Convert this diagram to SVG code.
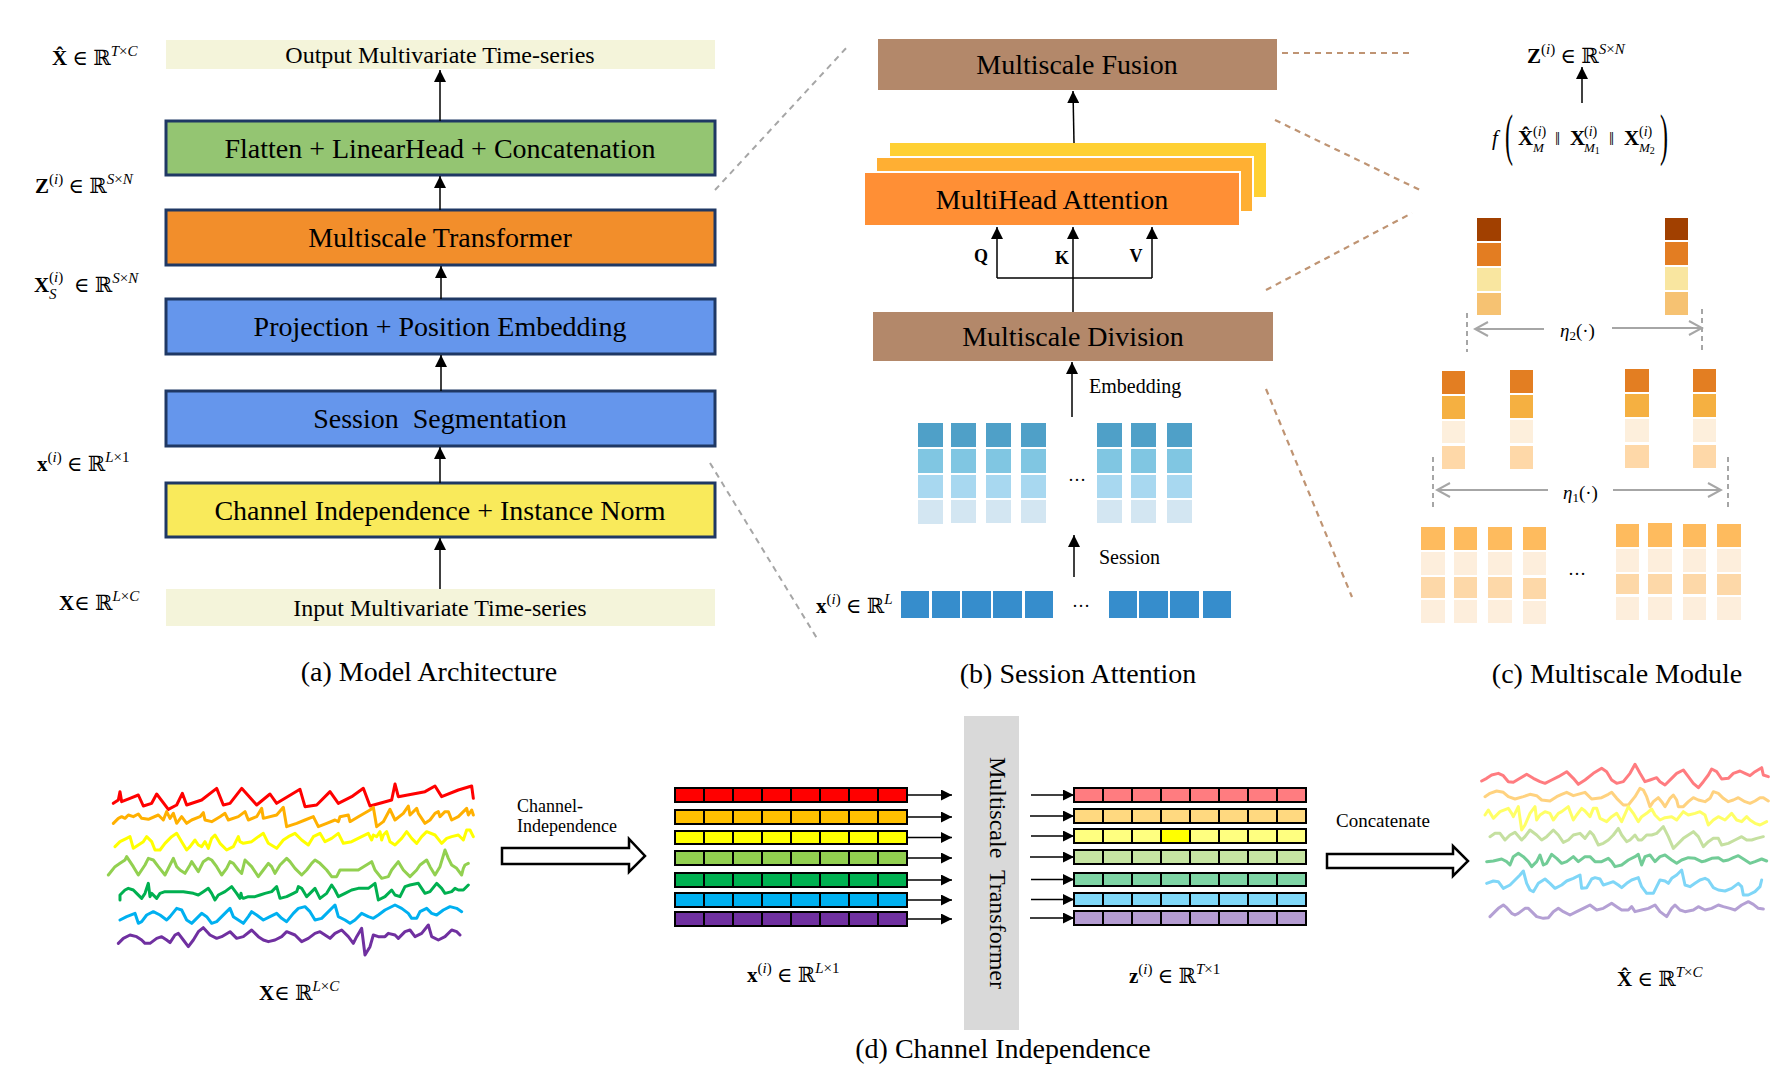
<svg xmlns="http://www.w3.org/2000/svg" width="1787" height="1066" viewBox="0 0 1787 1066">
<style>
.t{font-family:"Liberation Serif","Times New Roman","DejaVu Serif",serif;fill:#000}
.box{stroke:#1F3864;stroke-width:3}
.ln{stroke:#000;stroke-width:1.5;fill:none}
.dg{stroke:#A6A6A6;stroke-width:2;stroke-dasharray:6 5;fill:none}
.db{stroke:#BF9473;stroke-width:2.2;stroke-dasharray:6 5;fill:none}
.gr{stroke:#A6A6A6;stroke-width:2;fill:none}
.gv{stroke:#A6A6A6;stroke-width:2;stroke-dasharray:5 4;fill:none}
.b{font-weight:bold}
.i{font-style:italic}
.m{font-size:21px}
.s{font-size:15px}
.cap{font-size:28px}
.bt{font-size:28px}
.bar{stroke:#000;stroke-width:2}
.sep{stroke:#000;stroke-width:2;fill:none}
.cv{fill:none;stroke-width:9;stroke-linejoin:round;stroke-linecap:round}
</style>
<defs>
<marker id="ah" markerUnits="userSpaceOnUse" markerWidth="12" markerHeight="12" refX="12" refY="6" orient="auto" viewBox="0 0 12 12"><path d="M0,0 L12,6 L0,12 z" fill="#000"/></marker>
<marker id="ahs" markerUnits="userSpaceOnUse" markerWidth="11" markerHeight="11" refX="11" refY="5.5" orient="auto" viewBox="0 0 11 11"><path d="M0,0 L11,5.5 L0,11 z" fill="#000"/></marker>
<marker id="chev" markerUnits="userSpaceOnUse" markerWidth="16" markerHeight="16" refX="14" refY="8" orient="auto" viewBox="0 0 16 16"><path d="M1,1 L14,8 L1,15" fill="none" stroke="#A6A6A6" stroke-width="2"/></marker>
</defs>
<rect width="1787" height="1066" fill="#fff"/>

<!-- Panel (a) -->
<g id="a-output"><rect x="166" y="40" width="549" height="29" fill="#F4F4DA"/><text class="t" x="440" y="63" font-size="24" text-anchor="middle">Output Multivariate Time-series</text></g>
<g id="a-flatten"><rect class="box" x="166" y="121" width="549" height="54" fill="#94C572"/><text class="t bt" x="440" y="157.5" text-anchor="middle">Flatten + LinearHead + Concatenation</text></g>
<g id="a-mt"><rect class="box" x="166" y="210" width="549" height="55" fill="#F28E2B"/><text class="t bt" x="440" y="247" text-anchor="middle">Multiscale Transformer</text></g>
<g id="a-proj"><rect class="box" x="166" y="299" width="549" height="55" fill="#6596EC"/><text class="t bt" x="440" y="336" text-anchor="middle">Projection + Position Embedding</text></g>
<g id="a-seg"><rect class="box" x="166" y="391" width="549" height="55" fill="#6596EC"/><text class="t bt" x="440" y="428" text-anchor="middle" xml:space="preserve">Session  Segmentation</text></g>
<g id="a-ci"><rect class="box" x="166" y="483" width="549" height="54" fill="#F9EA5B"/><text class="t bt" x="440" y="519.5" text-anchor="middle">Channel Independence + Instance Norm</text></g>
<g id="a-input"><rect x="166" y="589" width="549" height="37" fill="#F4F4DA"/><text class="t" x="440" y="616" font-size="24" text-anchor="middle">Input Multivariate Time-series</text></g>

<g id="a-labels" class="t m">
<text x="52" y="65"><tspan class="b">X̂</tspan> ∈ ℝ<tspan dy="-9" class="s i">T</tspan><tspan class="s">×</tspan><tspan class="s i">C</tspan></text>
<text x="35" y="193"><tspan class="b">Z</tspan><tspan dy="-9" class="s">(</tspan><tspan class="s i">i</tspan><tspan class="s">)</tspan><tspan dy="9"> ∈ ℝ</tspan><tspan dy="-9" class="s i">S</tspan><tspan class="s">×</tspan><tspan class="s i">N</tspan></text>
<text x="34" y="292" class="b">X</text>
<text x="49" y="282" class="s">(<tspan class="i">i</tspan>)</text>
<text x="49" y="299" class="s i">S</text>
<text x="74" y="292">∈ ℝ<tspan dy="-9" class="s i">S</tspan><tspan class="s">×</tspan><tspan class="s i">N</tspan></text>
<text x="37" y="471"><tspan class="b">x</tspan><tspan dy="-9" class="s">(</tspan><tspan class="s i">i</tspan><tspan class="s">)</tspan><tspan dy="9"> ∈ ℝ</tspan><tspan dy="-9" class="s i">L</tspan><tspan class="s">×1</tspan></text>
<text x="59" y="610"><tspan class="b">X</tspan>∈ ℝ<tspan dy="-9" class="s i">L</tspan><tspan class="s">×</tspan><tspan class="s i">C</tspan></text>
</g>
<text class="t cap" x="429" y="681" text-anchor="middle">(a) Model Architecture</text>

<!-- Panel (b) -->
<g id="b-fusion"><rect x="878" y="39" width="399" height="51" fill="#B3886A"/><text class="t bt" x="1077" y="74" text-anchor="middle">Multiscale Fusion</text></g>
<g id="b-mha">
<rect x="890" y="143" width="376" height="54" fill="#FFD033"/>
<rect x="876" y="157" width="377" height="55" fill="#FFAF33" stroke="#fff" stroke-width="2"/>
<rect x="864" y="172" width="376" height="54" fill="#FF8F35" stroke="#fff" stroke-width="2"/>
<text class="t bt" x="1052" y="208.5" text-anchor="middle">MultiHead Attention</text>
</g>
<g id="b-div"><rect x="873" y="312" width="400" height="49" fill="#B3886A"/><text class="t bt" x="1073" y="346" text-anchor="middle">Multiscale Division</text></g>
<g id="b-qkv" class="t b" font-size="18" text-anchor="middle">
<text x="981" y="262">Q</text><text x="1062" y="264">K</text><text x="1136" y="262">V</text>
</g>
<g id="b-grid">
<g fill="#4FA0C8"><rect x="918" y="423" width="25" height="24"/><rect x="951" y="423" width="25" height="24"/><rect x="986" y="423" width="25" height="24"/><rect x="1021" y="423" width="25" height="24"/><rect x="1097" y="423" width="25" height="24"/><rect x="1131" y="423" width="25" height="24"/><rect x="1167" y="423" width="25" height="24"/></g>
<g fill="#80C6E2"><rect x="918" y="449" width="25" height="24"/><rect x="951" y="449" width="25" height="24"/><rect x="986" y="449" width="25" height="24"/><rect x="1021" y="449" width="25" height="24"/><rect x="1097" y="449" width="25" height="24"/><rect x="1131" y="449" width="25" height="24"/><rect x="1167" y="449" width="25" height="24"/></g>
<g fill="#A8D8F0"><rect x="918" y="475" width="25" height="23"/><rect x="951" y="475" width="25" height="23"/><rect x="986" y="475" width="25" height="23"/><rect x="1021" y="475" width="25" height="23"/><rect x="1097" y="475" width="25" height="23"/><rect x="1131" y="475" width="25" height="23"/><rect x="1167" y="475" width="25" height="23"/></g>
<g fill="#D3E6F2"><rect x="918" y="500" width="25" height="24"/><rect x="951" y="500" width="25" height="23"/><rect x="986" y="500" width="25" height="23"/><rect x="1021" y="500" width="25" height="23"/><rect x="1097" y="500" width="25" height="23"/><rect x="1131" y="500" width="25" height="23"/><rect x="1167" y="500" width="25" height="23"/></g>
<text class="t" x="1077" y="481" font-size="18" text-anchor="middle">…</text>
</g>
<g id="b-seq" fill="#368DCC">
<rect x="901" y="591" width="28" height="27"/><rect x="932" y="591" width="28" height="27"/><rect x="962" y="591" width="29" height="27"/><rect x="993" y="591" width="29" height="27"/><rect x="1025" y="591" width="28" height="27"/>
<rect x="1109" y="591" width="28" height="27"/><rect x="1139" y="591" width="29" height="27"/><rect x="1170" y="591" width="29" height="27"/><rect x="1203" y="591" width="28" height="27"/>
<text class="t" x="1081" y="607" font-size="18" text-anchor="middle">…</text>
</g>
<g id="b-labels" class="t">
<text x="1089" y="393" font-size="20">Embedding</text>
<text x="1099" y="564" font-size="20">Session</text>
<text x="816" y="613" font-size="21"><tspan class="b">x</tspan><tspan dy="-9" class="s">(</tspan><tspan class="s i">i</tspan><tspan class="s">)</tspan><tspan dy="9"> ∈ ℝ</tspan><tspan dy="-9" class="s i">L</tspan></text>
</g>
<text class="t cap" x="1078" y="683" text-anchor="middle">(b) Session Attention</text>

<!-- Panel (c) -->
<g id="c-out" class="t m">
<text x="1527" y="63"><tspan class="b">Z</tspan><tspan dy="-9" class="s">(</tspan><tspan class="s i">i</tspan><tspan class="s">)</tspan><tspan dy="9"> ∈ ℝ</tspan><tspan dy="-9" class="s i">S</tspan><tspan class="s">×</tspan><tspan class="s i">N</tspan></text>
</g>
<g id="c-formula" class="t">
<text x="1492" y="145" class="m i">f</text>
<text transform="translate(1505,154) scale(0.75,1.75)" font-size="32">(</text>
<text x="1518" y="145" class="m b">X̂</text>
<text x="1533" y="136" font-size="14">(<tspan class="i">i</tspan>)</text>
<text x="1533" y="152" font-size="13" class="i">M</text>
<text x="1555" y="145" font-size="18">‖</text>
<text x="1570" y="145" class="m b">X</text>
<text x="1584" y="136" font-size="14">(<tspan class="i">i</tspan>)</text>
<text x="1584" y="152" font-size="13"><tspan class="i">M</tspan><tspan font-size="10" dy="2">1</tspan></text>
<text x="1609" y="145" font-size="18">‖</text>
<text x="1624" y="145" class="m b">X</text>
<text x="1639" y="136" font-size="14">(<tspan class="i">i</tspan>)</text>
<text x="1639" y="152" font-size="13"><tspan class="i">M</tspan><tspan font-size="10" dy="2">2</tspan></text>
<text transform="translate(1660,154) scale(0.75,1.75)" font-size="32">)</text>
</g>
<g id="c-top">
<g fill="#A14000"><rect x="1477" y="218" width="24" height="23"/><rect x="1665" y="218" width="23" height="22"/></g>
<g fill="#E37D22"><rect x="1477" y="243" width="24" height="23"/><rect x="1665" y="242" width="23" height="23"/></g>
<g fill="#F9E6A0"><rect x="1477" y="268" width="24" height="23"/><rect x="1665" y="267" width="23" height="23"/></g>
<g fill="#F6C272"><rect x="1477" y="293" width="24" height="22"/><rect x="1665" y="292" width="23" height="23"/></g>
</g>
<g id="c-eta2">
<path class="gv" d="M1467,313V352M1702,309V353"/>
<text class="t i" x="1560" y="337" font-size="19">η<tspan font-style="normal" font-size="13" dy="3">2</tspan><tspan font-style="normal" dy="-3">(·)</tspan></text>
</g>
<g id="c-mid">
<g fill="#E37E22"><rect x="1442" y="371" width="23" height="23"/><rect x="1510" y="370" width="23" height="23"/><rect x="1625" y="369" width="24" height="23"/><rect x="1693" y="369" width="23" height="23"/></g>
<g fill="#F5B041"><rect x="1442" y="396" width="23" height="23"/><rect x="1510" y="395" width="23" height="23"/><rect x="1625" y="394" width="24" height="23"/><rect x="1693" y="394" width="23" height="23"/></g>
<g fill="#FDEFDC"><rect x="1442" y="421" width="23" height="22"/><rect x="1510" y="420" width="23" height="23"/><rect x="1625" y="419" width="24" height="23"/><rect x="1693" y="419" width="23" height="23"/></g>
<g fill="#FED8A8"><rect x="1442" y="446" width="23" height="23"/><rect x="1510" y="446" width="23" height="23"/><rect x="1625" y="445" width="24" height="23"/><rect x="1693" y="445" width="23" height="23"/></g>
</g>
<g id="c-eta1">
<path class="gv" d="M1433,457V511M1728,457V511"/>
<text class="t i" x="1563" y="499" font-size="19">η<tspan font-style="normal" font-size="13" dy="3">1</tspan><tspan font-style="normal" dy="-3">(·)</tspan></text>
</g>
<g id="c-bottom">
<g fill="#FEBB5E"><rect x="1421" y="527" width="24" height="23"/><rect x="1454" y="527" width="23" height="23"/><rect x="1488" y="527" width="24" height="23"/><rect x="1523" y="527" width="23" height="23"/><rect x="1616" y="524" width="23" height="23"/><rect x="1648" y="523" width="24" height="24"/><rect x="1683" y="524" width="23" height="23"/><rect x="1717" y="524" width="24" height="23"/></g>
<g fill="#FDEEDC"><rect x="1421" y="552" width="24" height="23"/><rect x="1454" y="552" width="23" height="23"/><rect x="1488" y="552" width="24" height="23"/><rect x="1523" y="552" width="23" height="23"/><rect x="1616" y="549" width="23" height="23"/><rect x="1648" y="549" width="24" height="23"/><rect x="1683" y="549" width="23" height="23"/><rect x="1717" y="549" width="24" height="23"/></g>
<g fill="#FDD8A8"><rect x="1421" y="577" width="24" height="21"/><rect x="1454" y="577" width="23" height="21"/><rect x="1488" y="577" width="24" height="21"/><rect x="1523" y="578" width="23" height="21"/><rect x="1616" y="574" width="23" height="20"/><rect x="1648" y="574" width="24" height="20"/><rect x="1683" y="574" width="23" height="20"/><rect x="1717" y="574" width="24" height="21"/></g>
<g fill="#FDEEDC"><rect x="1421" y="600" width="24" height="23"/><rect x="1454" y="600" width="23" height="23"/><rect x="1488" y="600" width="24" height="23"/><rect x="1523" y="601" width="23" height="23"/><rect x="1616" y="597" width="23" height="23"/><rect x="1648" y="597" width="24" height="23"/><rect x="1683" y="597" width="23" height="23"/><rect x="1717" y="597" width="24" height="23"/></g>
<text class="t" x="1577" y="575" font-size="18" text-anchor="middle">…</text>
</g>
<text class="t cap" x="1617" y="683" text-anchor="middle">(c) Multiscale Module</text>

<!-- Panel (d) -->
<g id="d-input-curves" transform="translate(105,770) scale(0.333333)">
<polyline class="cv" stroke="#FF0000" points="25,100 40,90 45,65 50,95 75,85 100,75 115,108 140,100 155,72 190,118 215,105 232,70 245,105 290,90 335,55 355,105 375,100 410,55 455,105 495,72 515,100 540,85 585,58 600,110 635,105 675,65 700,100 740,80 775,55 795,108 860,90 870,42 880,80 960,65 990,48 1010,80 1060,60 1100,48 1105,85"/>
<polyline class="cv" stroke="#FFB000" points="25,160 40,145 50,140 60,145 70,135 85,140 100,132 110,145 130,148 160,135 175,150 185,125 195,145 205,130 215,160 230,140 245,160 260,150 285,140 295,128 300,150 320,155 345,140 360,130 370,150 400,140 420,125 430,150 455,140 470,115 475,145 515,135 535,112 545,170 575,160 600,150 625,140 640,170 665,160 690,150 700,155 705,140 730,135 735,155 760,140 795,120 805,112 815,170 835,155 855,118 870,150 895,130 910,108 915,135 935,115 940,130 960,160 975,150 990,130 1000,125 1005,140 1020,125 1030,125 1040,150 1060,140 1085,115 1090,135 1100,120 1105,135"/>
<polyline class="cv" stroke="#FFFF00" points="30,230 45,215 65,205 75,200 85,235 100,225 115,215 125,200 140,215 150,240 165,240 180,220 200,200 215,190 230,215 245,240 255,230 270,210 280,225 290,230 300,215 310,235 320,205 330,195 345,220 365,240 385,230 400,200 405,215 415,220 440,215 460,200 475,190 490,220 515,235 535,210 550,200 570,190 590,210 610,225 625,200 645,190 660,215 680,205 700,190 715,220 740,215 770,200 790,190 800,210 805,195 815,200 825,185 830,210 835,195 845,185 855,215 870,225 890,205 905,185 920,205 935,220 950,200 965,185 990,195 1010,220 1025,205 1040,200 1060,195 1075,210 1085,180 1095,180 1105,200"/>
<polyline class="cv" stroke="#92D050" points="10,315 30,290 45,280 60,270 65,260 75,275 85,290 100,315 120,285 130,265 145,270 160,290 180,315 195,285 205,265 215,290 225,300 240,310 255,285 260,275 270,290 280,305 295,275 310,265 320,270 335,290 350,315 365,295 375,275 385,280 400,300 410,310 420,270 440,290 460,320 475,300 490,280 500,290 510,310 525,285 545,265 555,275 570,295 590,315 605,300 620,280 630,270 645,280 665,300 680,320 695,320 705,300 760,300 800,275 810,300 830,325 850,320 860,300 880,275 895,300 915,320 935,300 945,285 965,270 975,290 990,315 1005,290 1020,240 1030,265 1040,285 1055,295 1070,315 1075,295 1080,285 1090,280"/>
<polyline class="cv" stroke="#00B050" points="45,390 45,375 60,360 70,355 85,360 95,370 110,385 120,370 130,340 135,380 140,370 155,385 165,370 180,365 235,365 265,370 280,375 295,365 310,355 320,370 330,390 340,375 360,365 380,350 395,370 405,385 408,370 410,380 415,385 430,380 450,380 465,375 480,370 500,365 515,350 525,385 545,380 565,370 575,365 580,350 590,355 605,380 615,370 630,355 645,385 665,370 680,345 690,360 700,380 720,370 740,360 760,355 790,355 810,340 820,390 840,380 860,360 870,375 885,380 900,350 915,345 940,340 960,370 975,365 995,340 1010,355 1020,370 1040,365 1050,355 1060,360 1075,360 1090,345"/>
<polyline class="cv" stroke="#00B0F0" points="45,450 65,440 90,430 100,460 110,455 125,435 145,425 165,435 185,450 195,440 215,415 230,420 245,450 260,460 275,445 290,430 305,440 320,460 335,455 350,440 365,425 375,415 385,440 400,450 415,460 430,440 440,425 455,435 475,450 495,440 515,430 530,445 545,455 565,430 580,415 600,410 615,425 630,450 650,445 665,430 690,405 700,440 720,450 735,460 750,450 770,430 790,440 805,445 820,435 840,420 870,405 890,415 910,430 920,445 935,445 945,425 965,415 980,430 995,435 1015,420 1035,410 1055,415 1070,425"/>
<polyline class="cv" stroke="#7030A0" points="40,520 55,505 75,495 95,500 110,510 120,520 135,520 155,505 170,500 185,510 195,518 210,495 220,490 235,510 250,530 265,510 280,485 295,473 315,495 335,505 350,500 375,485 395,505 415,500 440,480 460,500 475,510 490,515 510,510 530,500 545,485 570,495 590,515 610,505 630,490 645,485 660,495 675,505 690,490 710,480 730,500 745,520 755,500 770,475 780,555 795,530 805,495 820,500 840,500 850,490 870,495 880,505 900,485 915,480 930,500 950,490 970,465 980,500 1000,510 1020,500 1040,480 1055,485 1065,495"/>
</g>
<g id="d-labels" class="t m">
<text x="259" y="1000"><tspan class="b">X</tspan>∈ ℝ<tspan dy="-9" class="s i">L</tspan><tspan class="s">×</tspan><tspan class="s i">C</tspan></text>
<text x="747" y="982"><tspan class="b">x</tspan><tspan dy="-9" class="s">(</tspan><tspan class="s i">i</tspan><tspan class="s">)</tspan><tspan dy="9"> ∈ ℝ</tspan><tspan dy="-9" class="s i">L</tspan><tspan class="s">×1</tspan></text>
<text x="1129" y="983"><tspan class="b">z</tspan><tspan dy="-9" class="s">(</tspan><tspan class="s i">i</tspan><tspan class="s">)</tspan><tspan dy="9"> ∈ ℝ</tspan><tspan dy="-9" class="s i">T</tspan><tspan class="s">×1</tspan></text>
<text x="1617" y="986"><tspan class="b">X̂</tspan> ∈ ℝ<tspan dy="-9" class="s i">T</tspan><tspan class="s">×</tspan><tspan class="s i">C</tspan></text>
</g>
<g id="d-ci-arrow">
<polygon points="502,848 629,848 629,839 645,856 629,872 629,864 502,864" fill="#fff" stroke="#000" stroke-width="2.5"/>
<text class="t" x="517" y="812" font-size="18">Channel-</text>
<text class="t" x="517" y="832" font-size="18">Independence</text>
</g>
<g id="d-x-bars">
<rect class="bar" x="675" y="788" width="232" height="14" fill="#FF0000"/>
<rect class="bar" x="675" y="810" width="232" height="14" fill="#FFC000"/>
<rect class="bar" x="675" y="831" width="232" height="13" fill="#FFFF00"/>
<rect class="bar" x="675" y="851" width="232" height="14" fill="#92D050"/>
<rect class="bar" x="675" y="873" width="232" height="14" fill="#00B050"/>
<rect class="bar" x="675" y="893" width="232" height="14" fill="#00B0F0"/>
<rect class="bar" x="675" y="912" width="232" height="14" fill="#7030A0"/>
<path class="sep" d="M704,788v14m29,-14v14m29,-14v14m29,-14v14m29,-14v14m29,-14v14m29,-14v14 M704,810v14m29,-14v14m29,-14v14m29,-14v14m29,-14v14m29,-14v14m29,-14v14 M704,831v13m29,-13v13m29,-13v13m29,-13v13m29,-13v13m29,-13v13m29,-13v13 M704,851v14m29,-14v14m29,-14v14m29,-14v14m29,-14v14m29,-14v14m29,-14v14 M704,873v14m29,-14v14m29,-14v14m29,-14v14m29,-14v14m29,-14v14m29,-14v14 M704,893v14m29,-14v14m29,-14v14m29,-14v14m29,-14v14m29,-14v14m29,-14v14 M704,912v14m29,-14v14m29,-14v14m29,-14v14m29,-14v14m29,-14v14m29,-14v14"/>
</g>
<g id="d-mt">
<rect x="964" y="716" width="55" height="314" fill="#D9D9D9"/>
<text class="t" transform="translate(990,873) rotate(90)" font-size="24" text-anchor="middle" xml:space="preserve">Multiscale  Transformer</text>
</g>
<g id="d-z-bars">
<rect class="bar" x="1074" y="788" width="232" height="14" fill="#FF7C80"/>
<rect class="bar" x="1074" y="809" width="232" height="14" fill="#FFD980"/>
<rect class="bar" x="1074" y="829" width="232" height="14" fill="#FFFF80"/>
<rect x="1161" y="830" width="29" height="12" fill="#FFFF00"/>
<rect class="bar" x="1074" y="850" width="232" height="14" fill="#C6E5A2"/>
<rect class="bar" x="1074" y="873" width="232" height="13" fill="#7FD5A5"/>
<rect class="bar" x="1074" y="893" width="232" height="13" fill="#80D8F8"/>
<rect class="bar" x="1074" y="911" width="232" height="14" fill="#B59CD2"/>
<path class="sep" d="M1103,788v14m29,-14v14m29,-14v14m29,-14v14m29,-14v14m29,-14v14m29,-14v14 M1103,809v14m29,-14v14m29,-14v14m29,-14v14m29,-14v14m29,-14v14m29,-14v14 M1103,829v14m29,-14v14m29,-14v14m29,-14v14m29,-14v14m29,-14v14m29,-14v14 M1103,850v14m29,-14v14m29,-14v14m29,-14v14m29,-14v14m29,-14v14m29,-14v14 M1103,873v13m29,-13v13m29,-13v13m29,-13v13m29,-13v13m29,-13v13m29,-13v13 M1103,893v13m29,-13v13m29,-13v13m29,-13v13m29,-13v13m29,-13v13m29,-13v13 M1103,911v14m29,-14v14m29,-14v14m29,-14v14m29,-14v14m29,-14v14m29,-14v14"/>
</g>
<g id="d-concat-arrow">
<polygon points="1327,854 1453,854 1453,846 1468,861 1453,876 1453,868 1327,868" fill="#fff" stroke="#000" stroke-width="2.5"/>
<text class="t" x="1336" y="827" font-size="19">Concatenate</text>
</g>
<g id="d-output-curves" transform="translate(1475,755) scale(0.333333)">
<polyline class="cv" stroke="#FF7C80" points="20,78 35,70 50,60 70,55 85,62 100,80 115,82 135,70 155,58 175,70 195,80 210,85 230,75 250,65 275,50 295,70 310,88 330,75 355,55 380,40 395,50 410,75 425,85 445,80 465,55 480,28 495,55 510,80 525,75 545,68 555,80 570,90 590,70 605,55 625,45 640,65 655,85 670,98 685,80 700,60 710,42 725,50 740,72 760,70 775,55 795,48 810,55 825,62 840,50 860,38 865,60 880,65"/>
<polyline class="cv" stroke="#FFD27F" points="30,125 45,115 65,108 85,112 100,125 120,132 145,125 165,118 185,122 200,135 225,138 245,125 260,118 275,112 295,122 330,112 350,132 380,128 400,118 410,112 425,130 445,150 460,150 480,125 495,100 505,105 515,125 525,155 535,140 550,128 560,140 570,155 585,130 595,120 605,135 610,155 625,155 640,140 655,128 670,135 690,140 705,130 715,110 730,115 745,130 760,140 775,135 790,128 810,140 825,145 840,138 855,128 865,128 880,138"/>
<polyline class="cv" stroke="#FFFF66" points="30,180 40,165 55,190 75,170 100,160 110,175 115,185 130,155 140,225 150,210 165,175 180,155 185,195 195,180 210,170 225,175 235,195 250,175 260,170 280,155 295,195 305,180 320,160 330,168 345,185 355,160 365,160 375,190 395,200 410,185 425,175 440,200 460,155 475,175 490,200 500,185 515,175 530,162 540,180 555,195 570,188 590,185 605,195 625,170 640,180 660,175 675,170 690,180 700,210 715,195 730,185 750,195 770,175 785,195 800,200 815,185 825,195 840,205 855,210 875,200"/>
<polyline class="cv" stroke="#C5E0A0" points="45,245 60,235 75,235 90,255 105,240 120,232 140,255 150,245 165,225 185,240 200,255 215,245 235,225 250,240 265,262 280,255 295,240 315,235 330,250 345,230 355,240 370,270 385,265 400,255 415,240 430,220 440,240 455,260 465,255 480,240 490,255 500,255 515,240 530,240 545,235 555,225 565,215 580,245 595,280 610,265 625,250 640,240 655,230 670,245 685,275 700,260 715,250 730,250 740,270 760,265 780,255 800,245 815,255 830,255 845,250 865,245"/>
<polyline class="cv" stroke="#72CC97" points="35,320 55,318 80,312 95,320 105,330 115,305 130,295 145,305 160,320 170,335 185,320 195,300 205,330 215,325 230,298 245,310 260,325 275,320 295,305 310,320 330,305 345,305 360,320 380,320 400,310 410,320 420,335 440,330 460,315 480,305 490,298 500,330 510,305 525,300 540,320 555,305 570,300 590,315 605,325 620,315 640,308 660,310 680,320 690,318 710,310 730,308 745,318 760,315 775,308 790,302 810,315 825,325 840,320 860,312 875,318"/>
<polyline class="cv" stroke="#7FD6F7" points="35,385 55,378 70,380 85,400 105,390 120,375 135,360 145,348 155,385 165,405 175,410 190,385 210,372 225,385 240,400 260,390 275,378 295,370 315,360 320,400 335,398 350,372 360,368 375,372 385,390 400,385 415,380 430,390 440,398 455,385 470,375 490,368 500,395 515,415 535,415 545,395 555,375 570,378 580,385 590,370 605,360 620,345 630,390 645,395 660,385 675,375 690,370 700,375 715,398 730,405 750,408 770,400 790,385 800,395 805,420 820,420 840,410 855,395 860,375"/>
<polyline class="cv" stroke="#B4A0D4" points="45,485 60,470 70,460 85,450 95,458 110,475 120,480 130,475 150,460 160,460 170,470 185,485 205,490 220,488 235,470 250,460 265,470 285,480 305,470 325,460 345,450 365,465 385,460 410,445 425,455 440,465 460,465 470,455 480,470 500,465 520,460 540,450 555,470 575,485 590,460 600,450 615,465 630,470 655,465 670,455 690,465 710,460 730,450 745,455 765,460 780,465 800,450 820,440 835,448 850,460 865,462"/>
</g>
<text class="t cap" x="1003" y="1058" text-anchor="middle">(d) Channel Independence</text>

<!-- Connectors -->
<g id="connectors">
<g class="ln" marker-end="url(#ah)">
<line x1="440" y1="121" x2="440" y2="70"/>
<line x1="440" y1="210" x2="440" y2="176"/>
<line x1="441" y1="299" x2="441" y2="266"/>
<line x1="441" y1="391" x2="441" y2="355"/>
<line x1="440" y1="483" x2="440" y2="447"/>
<line x1="440" y1="589" x2="440" y2="538"/>
<line x1="1074" y1="143" x2="1073" y2="91"/>
<line x1="997" y1="278" x2="997" y2="227"/>
<line x1="1073" y1="312" x2="1073" y2="227"/>
<line x1="1152" y1="278" x2="1152" y2="227"/>
<line x1="1072" y1="417" x2="1072" y2="362"/>
<line x1="1074" y1="577" x2="1074" y2="535"/>
<line x1="1582" y1="103" x2="1582" y2="67"/>
</g>
<line class="ln" x1="997" y1="278" x2="1152" y2="278"/>
<g class="ln" stroke-width="1.3" marker-end="url(#ahs)">
<line x1="907" y1="795" x2="952" y2="795"/>
<line x1="907" y1="817" x2="952" y2="817"/>
<line x1="907" y1="837.5" x2="952" y2="837.5"/>
<line x1="907" y1="858" x2="952" y2="858"/>
<line x1="907" y1="880" x2="952" y2="880"/>
<line x1="907" y1="900" x2="952" y2="900"/>
<line x1="907" y1="919" x2="952" y2="919"/>
<line x1="1031" y1="795" x2="1074" y2="795"/>
<line x1="1030" y1="816" x2="1074" y2="816"/>
<line x1="1031" y1="836" x2="1074" y2="836"/>
<line x1="1030" y1="857" x2="1074" y2="857"/>
<line x1="1031" y1="879.5" x2="1074" y2="879.5"/>
<line x1="1031" y1="899.5" x2="1074" y2="899.5"/>
<line x1="1030" y1="918" x2="1074" y2="918"/>
</g>
<g class="gr" marker-end="url(#chev)">
<line x1="1544" y1="329" x2="1475" y2="329"/>
<line x1="1612" y1="328" x2="1702" y2="328"/>
<line x1="1548" y1="490" x2="1437" y2="490"/>
<line x1="1613" y1="490" x2="1721" y2="490"/>
</g>
<line class="dg" x1="715" y1="190" x2="849" y2="45"/>
<line class="dg" x1="710" y1="463" x2="818" y2="640"/>
<line class="db" x1="1282" y1="53" x2="1410" y2="53"/>
<line class="db" x1="1275" y1="120" x2="1420" y2="190"/>
<line class="db" x1="1266" y1="290" x2="1412" y2="213"/>
<line class="db" x1="1266" y1="389" x2="1352" y2="597"/>
</g>
</svg>
